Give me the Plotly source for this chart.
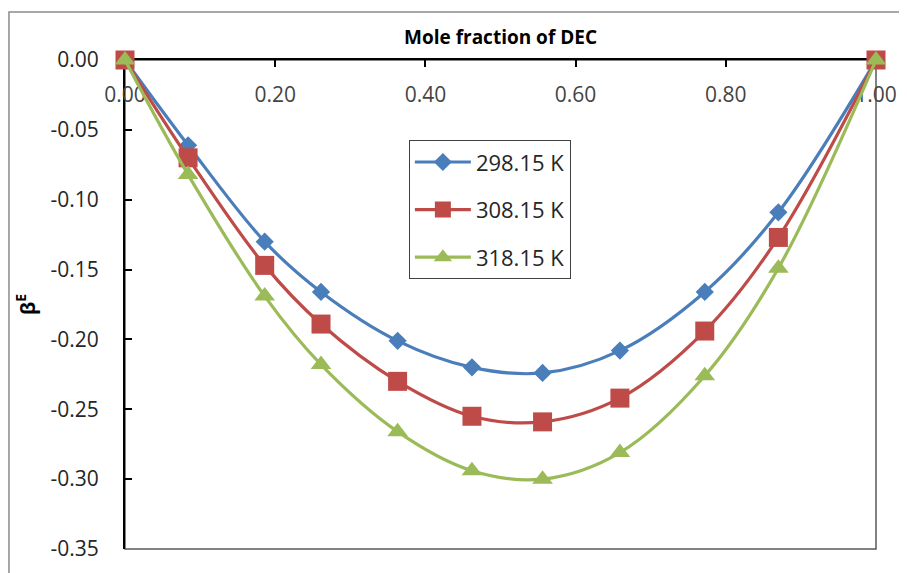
import plotly.graph_objects as go

# Data
mole_fraction = [0.0, 0.084, 0.186, 0.261, 0.363, 0.462, 0.556, 0.659, 0.772, 0.870, 1.0]
beta_298 = [0.0, -0.061, -0.130, -0.166, -0.201, -0.220, -0.224, -0.208, -0.166, -0.109, 0.0]
beta_308 = [0.0, -0.070, -0.147, -0.189, -0.230, -0.255, -0.259, -0.242, -0.194, -0.127, 0.0]
beta_318 = [0.0, -0.082, -0.169, -0.218, -0.266, -0.294, -0.300, -0.281, -0.226, -0.149, 0.0]

series_names = ["298.15 K", "308.15 K", "318.15 K"]
series_values = [beta_298, beta_308, beta_318]
series_colors = ["#4A7EBB", "#BE4B48", "#9BBB59"]
series_symbols = ["diamond", "square", "triangle-up"]
series_sizes = [14, 19, 18]

x_tickvals = [0.0, 0.2, 0.4, 0.6, 0.8, 1.0]
x_ticktext = ["0.00", "0.20", "0.40", "0.60", "0.80", "1.00"]
y_tickvals = [0.0, -0.05, -0.10, -0.15, -0.20, -0.25, -0.30, -0.35]
y_ticktext = ["0.00", "-0.05", "-0.10", "-0.15", "-0.20", "-0.25", "-0.30", "-0.35"]

FONT = "Open Sans"

fig = go.Figure()
for i, (name, vals, col, sym, sz) in enumerate(
        zip(series_names, series_values, series_colors, series_symbols, series_sizes)):
    fig.add_trace(go.Scatter(
        x=mole_fraction, y=vals, name=name, mode="lines+markers",
        line=dict(color=col, width=3.2, shape="spline", smoothing=1.0),
        marker=dict(symbol=sym, size=sz, color=col),
        cliponaxis=False, legendgroup=f"g{i}",
    ))

fig.update_layout(
    width=907, height=573,
    margin=dict(l=117, r=39, t=52, b=32),
    paper_bgcolor="white", plot_bgcolor="white",
    font=dict(family=FONT, size=21, color="#262626"),
    showlegend=True,
    legend=dict(
        x=0.378, y=0.836, xanchor="left", yanchor="top",
        bgcolor="white", bordercolor="#404040", borderwidth=1,
        font=dict(family=FONT, size=22, color="#262626"),
        traceorder="grouped", tracegroupgap=16, itemwidth=56,
    ),
    xaxis=dict(
        range=[0, 1], side="top", automargin=False,
        tickvals=x_tickvals, ticktext=x_ticktext,
        ticks="inside", ticklen=7, tickwidth=2, tickcolor="black",
        ticklabelposition="inside", ticklabelstandoff=22, ticklabeloverflow="allow",
        showline=True, linecolor="black", linewidth=2,
        showgrid=False, zeroline=False, layer="below traces",
        title=dict(text="<b>Mole fraction of DEC</b>", font=dict(size=19, color="black"), standoff=31),
    ),
    yaxis=dict(
        range=[-0.35, 0], automargin=False,
        tickvals=y_tickvals, ticktext=y_ticktext,
        ticks="inside", ticklen=7, tickwidth=2, tickcolor="black",
        ticklabelstandoff=20, ticklabeloverflow="allow",
        showline=True, linecolor="black", linewidth=2,
        showgrid=False, zeroline=False, layer="below traces",
        title=dict(text="<b>β<sup>E</sup></b>", font=dict(size=20, color="black"), standoff=10),
    ),
    shapes=[
        dict(type="rect", xref="x domain", yref="y domain", x0=0, x1=1, y0=0, y1=1,
             line=dict(color="#595959", width=1.5), layer="below"),
        dict(type="rect", xref="paper", yref="paper", x0=-0.1545, x1=1.06, y0=-0.09, y1=1.098,
             line=dict(color="#8C8C8C", width=1.5), layer="below"),
    ],
)

fig.write_html("out.html")
